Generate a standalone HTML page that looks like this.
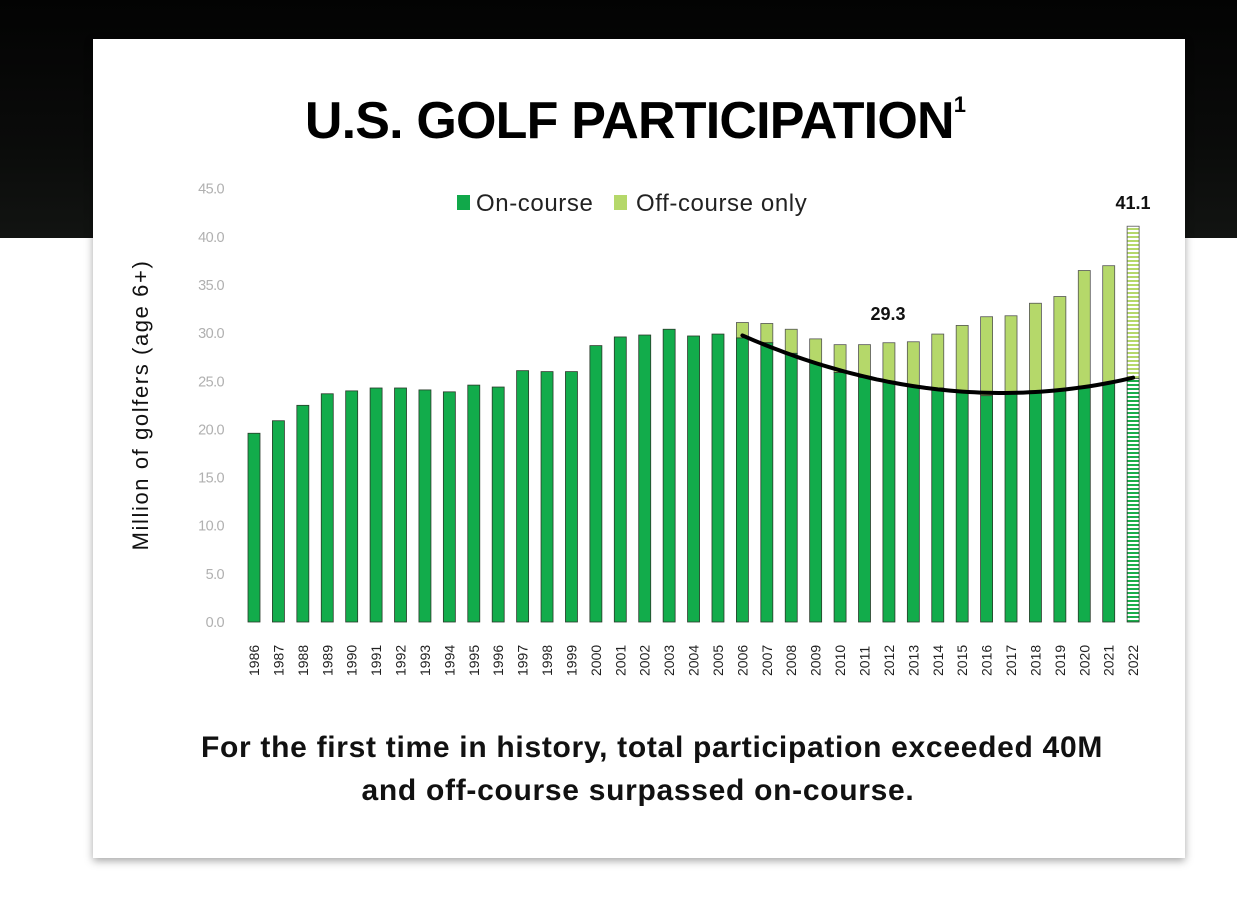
<!DOCTYPE html>
<html><head><meta charset="utf-8"><style>
html,body{margin:0;padding:0;width:1237px;height:902px;overflow:hidden;background:#fff;font-family:"Liberation Sans",sans-serif}
#bg{position:absolute;left:0;top:0;width:1237px;height:238px;background:linear-gradient(180deg,#030303,#0a0b0a 60%,#121412)}
#card{position:absolute;left:93px;top:39px;width:1092px;height:819px;background:#fff;box-shadow:0 3px 8px rgba(0,0,0,.35)}
svg{position:absolute;left:0;top:0}
</style></head><body>
<div id="bg"></div>
<div id="card"></div>
<svg id="chart" width="1237" height="902">
<defs>
<pattern id="hatchOn" width="4" height="4" patternUnits="userSpaceOnUse"><rect width="4" height="4" fill="#fff"/><rect width="4" height="2" fill="#1aae4c"/></pattern>
<pattern id="hatchOff" width="4" height="4" patternUnits="userSpaceOnUse"><rect width="4" height="4" fill="#fff"/><rect width="4" height="2" fill="#b5d86a"/></pattern>
</defs>
<text x="635" y="138" text-anchor="middle" font-size="52" font-weight="bold" fill="#000" letter-spacing="-0.8">U.S. GOLF PARTICIPATION<tspan font-size="22" dy="-26">1</tspan></text>
<rect x="457" y="195" width="13" height="15" fill="#11a84a"/>
<text x="476" y="211" font-size="24" letter-spacing="0.6" fill="#222">On-course</text>
<rect x="614" y="195" width="13" height="15" fill="#b5d86a"/>
<text x="636" y="211" font-size="24" letter-spacing="0.6" fill="#222">Off-course only</text>
<text x="148" y="405" transform="rotate(-90 148 405)" text-anchor="middle" font-size="22" letter-spacing="1.6" fill="#111">Million of golfers (age 6+)</text>
<g id="g"></g>
<text x="888" y="320" text-anchor="middle" font-size="18" font-weight="bold" fill="#111">29.3</text>
<text x="1133" y="209" text-anchor="middle" font-size="18" font-weight="bold" fill="#111">41.1</text>
<text x="652" y="757" text-anchor="middle" font-size="30" font-weight="bold" letter-spacing="0.7" fill="#111">For the first time in history, total participation exceeded 40M</text>
<text x="638" y="800" text-anchor="middle" font-size="30" font-weight="bold" letter-spacing="0.7" fill="#111">and off-course surpassed on-course.</text>
</svg>
<script>
const years=[1986,1987,1988,1989,1990,1991,1992,1993,1994,1995,1996,1997,1998,1999,2000,2001,2002,2003,2004,2005,2006,2007,2008,2009,2010,2011,2012,2013,2014,2015,2016,2017,2018,2019,2020,2021,2022];
const onCourse=[19.6,20.9,22.5,23.7,24.0,24.3,24.3,24.1,23.9,24.6,24.4,26.1,26.0,26.0,28.7,29.6,29.8,30.4,29.7,29.9,29.5,29.0,27.9,26.9,25.9,25.4,25.0,24.5,24.3,24.0,23.5,23.7,24.0,24.2,24.5,24.8,25.3];
const totals=[19.6,20.9,22.5,23.7,24.0,24.3,24.3,24.1,23.9,24.6,24.4,26.1,26.0,26.0,28.7,29.6,29.8,30.4,29.7,29.9,31.1,31.0,30.4,29.4,28.8,28.8,29.0,29.1,29.9,30.8,31.7,31.8,33.1,33.8,36.5,37.0,41.1];
const yTicks=["0.0","5.0","10.0","15.0","20.0","25.0","30.0","35.0","40.0","45.0"];
const trendStart=2006;
const NS="http://www.w3.org/2000/svg";
const g=document.getElementById('g');
const yS=v=>622-v*9.63;
const xS=i=>254+i*24.42;
function mk(t,a){const e=document.createElementNS(NS,t);for(const k in a)e.setAttribute(k,a[k]);g.appendChild(e);return e;}
yTicks.forEach(t=>{
 const e=mk('text',{x:224,y:yS(parseFloat(t))+5,'text-anchor':'end','font-size':14.5,fill:'#b0b0b0',style:'letter-spacing:-0.6px'});
 e.textContent=t;
 
 
});
years.forEach((y,i)=>{
 const cx=xS(i),last=i===years.length-1;
 const on=onCourse[i],tot=totals[i];
 if(tot>on){
  const r=mk('rect',{x:cx-6,y:yS(tot),width:12,height:yS(on)-yS(tot),fill:last?'url(#hatchOff)':'#b5d86a',stroke:'#555',"stroke-width":0.8});
  
  
 }
 const b=mk('rect',{x:cx-6,y:yS(on),width:12,height:622-yS(on),fill:last?'url(#hatchOn)':'#12ac4b',stroke:'#2a3a2a',"stroke-width":0.8});
 
 
 const lx=cx+5,ly=676;
 const t=mk('text',{x:lx,y:ly,transform:`rotate(-90 ${lx} ${ly})`,'font-size':14,fill:'#222'});
 t.textContent=y;
 
 
});
// cubic least-squares trend over on-course values from trendStart
const s=years.indexOf(trendStart);
const xs=[],ys=[];
for(let i=s;i<years.length;i++){xs.push(i-s);ys.push(onCourse[i]);}
function fit(deg){
 const n=deg+1,A=[...Array(n)].map(()=>Array(n+1).fill(0));
 xs.forEach((x,k)=>{for(let r=0;r<n;r++){for(let c=0;c<n;c++)A[r][c]+=Math.pow(x,r+c);A[r][n]+=ys[k]*Math.pow(x,r);}});
 for(let i=0;i<n;i++){let p=i;for(let r=i+1;r<n;r++)if(Math.abs(A[r][i])>Math.abs(A[p][i]))p=r;[A[i],A[p]]=[A[p],A[i]];
  for(let r=0;r<n;r++)if(r!==i){const f=A[r][i]/A[i][i];for(let c=i;c<=n;c++)A[r][c]-=f*A[i][c];}}
 return A.map((row,i)=>row[n]/row[i]);
}
const co=fit(3);
let d='';
const N=xs[xs.length-1];
for(let t=0;t<=N+0.001;t+=0.25){
 let v=0;co.forEach((c,k)=>v+=c*Math.pow(t,k));
 d+=(d?' L':'M')+xS(s+t).toFixed(1)+','+yS(v).toFixed(1);
}
const tl=mk('path',{d:d,fill:'none',stroke:'#000','stroke-width':4,'stroke-linecap':'round'});


</script>
</body></html>
